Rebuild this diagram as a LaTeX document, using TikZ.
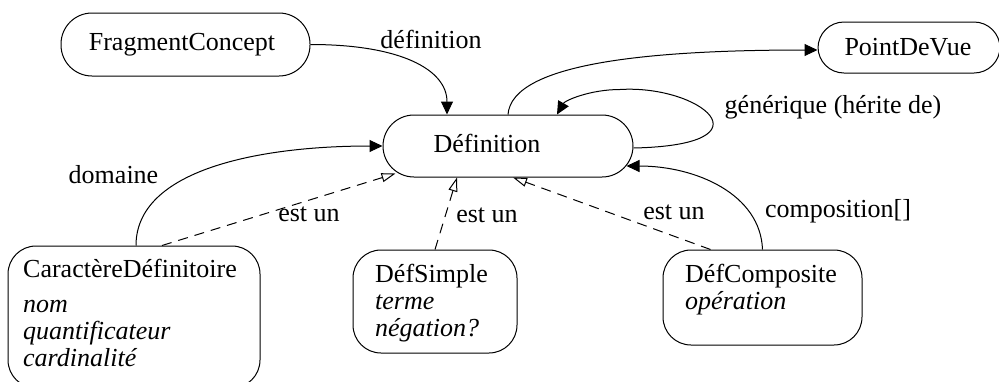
\documentclass[tikz,border=0pt]{standalone}
\usepackage{fontspec}
\setmainfont{LiberationSerif}[Extension=.ttf, UprightFont=*-Regular, ItalicFont=*-Italic, BoldFont=*-Bold, BoldItalicFont=*-BoldItalic]
\usetikzlibrary{arrows.meta}
\begin{document}
\begin{tikzpicture}[x=1pt,y=-1pt,
  every node/.style={font=\rmfamily\fontsize{26}{27}\selectfont, inner sep=0pt},
  pill/.style={draw, line width=1pt, rounded corners=#1},
  txt/.style={anchor=base},
  boxtxt/.style={anchor=base west},
  conn/.style={line width=1pt, -{Triangle[length=13pt,width=12pt]}},
  isa/.style={line width=1pt, dash pattern=on 10pt off 7pt, -{Triangle[open,length=14pt,width=9pt]}}
]
\useasboundingbox (0,0) rectangle (999,381);
\clip (0,0) rectangle (999,381);
% boxes
\node[pill=31, minimum width=249pt, minimum height=63pt] (fc) at (185.5,44.5) {};
\node[pill=31, minimum width=250pt, minimum height=62pt] (def) at (508,146) {};
\node[pill=26, minimum width=182pt, minimum height=51pt] (pdv) at (909,47.5) {};
\node[pill=28, minimum width=252pt, minimum height=142pt] (carac) at (134,317) {};
\node[pill=28, minimum width=164pt, minimum height=103pt] (simple) at (435,301.5) {};
\node[pill=28, minimum width=199pt, minimum height=95pt] (comp) at (762.5,297.5) {};
% texts
\node[txt] (tfc) at (182,50) {FragmentConcept};
\node[txt] (tdef) at (487,152) {Définition};
\node[txt] (tpdv) at (908,55) {PointDeVue};
\node[boxtxt] (tcarac) at (23,277) {\begin{tabular}[t]{@{}l@{}}CaractèreDéfinitoire\\[8pt]\textit{nom}\\\textit{quantificateur}\\\textit{cardinalité}\end{tabular}};
\node[boxtxt] (tsimple) at (375,282) {\begin{tabular}[t]{@{}l@{}}DéfSimple\\\textit{terme}\\\textit{négation?}\end{tabular}};
\node[boxtxt] (tcomp) at (685,282) {\begin{tabular}[t]{@{}l@{}}DéfComposite\\\textit{opération}\end{tabular}};
% labels
\node[txt] (ldef) at (431,48) {définition};
\node[txt] (lgen) at (833,113) {générique (hérite de)};
\node[txt] (ldom) at (113.5,183) {domaine};
\node[txt] (lisa1) at (309,221) {est un};
\node[txt] (lisa2) at (487,222) {est un};
\node[txt] (lisa3) at (674,219) {est un};
\node[txt] (lcomp) at (838,217) {composition[]};
% connectors
\draw[conn] (fc.east) .. controls +(90,0) and +(0,-45) .. ([shift={(-61,0)}]def.north);
\draw[conn] (def.north) .. controls +(4,-52) and +(-165,0) .. ([shift={(0,2.5)}]pdv.west);
\draw[conn] ([shift={(0,2)}]def.east) .. controls +(142,-3) and +(80,-5) .. ([shift={(112,-25)}]def.north)
  .. controls +(-30,0) and +(8,-14) .. ([shift={(49,0)}]def.north);
\draw[conn] (comp.north) .. controls +(-2,-55) and +(70,0) .. ([shift={(-7,20)}]def.east);
\draw[conn] ([shift={(2,0)}]carac.north) .. controls +(0,-76) and +(-123,0) .. (def.west);
\draw[isa] ([shift={(28,0)}]carac.north) -- ([shift={(13,-4)}]def.south west);
\draw[isa] (simple.north) -- ([shift={(-51,0)}]def.south);
\draw[isa] ([shift={(-52,0)}]comp.north) -- ([shift={(5,0)}]def.south);
\end{tikzpicture}
\end{document}
